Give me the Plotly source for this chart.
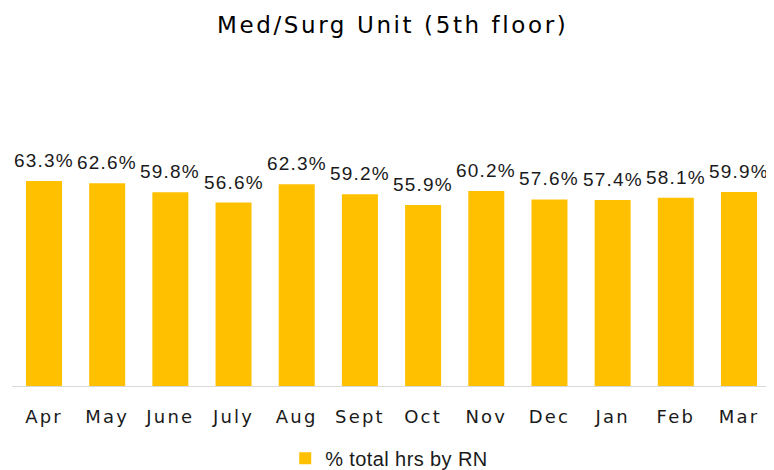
import plotly.graph_objects as go

months = ["Apr", "May", "June", "July", "Aug", "Sept", "Oct", "Nov", "Dec", "Jan", "Feb", "Mar"]
rn_pct = [63.3, 62.6, 59.8, 56.6, 62.3, 59.2, 55.9, 60.2, 57.6, 57.4, 58.1, 59.9]
series_name = "% total hrs by RN"
title_text = "Med/Surg Unit (5th floor)"

labels = [f"{v:.1f}%" for v in rn_pct]

WIDE = "DejaVu Sans, sans-serif"
ARIAL = "Liberation Sans, Arial, sans-serif"


def spaced(s, px):
    return f'<span style="letter-spacing:{px}px">{s}</span>'


fig = go.Figure()
fig.add_trace(go.Bar(
    x=months, y=rn_pct, name=spaced(series_name, 0.4),
    marker=dict(color="#FFC000", line=dict(width=0)),
    width=0.57, showlegend=True,
))

for m, v, t in zip(months, rn_pct, labels):
    fig.add_annotation(x=m, y=v, text=spaced(t, 1.2), showarrow=False, yanchor="bottom",
                       yshift=8, font=dict(family=ARIAL, size=19, color="#1a1a1a"))

fig.update_layout(
    width=774, height=470,
    paper_bgcolor="white", plot_bgcolor="white",
    margin=dict(l=4, r=11, t=54, b=92),
    title=dict(text=spaced(title_text, 2.6), x=0.497, xanchor="center", y=0.964, yanchor="middle",
               font=dict(family=WIDE, size=23, color="#000000")),
    xaxis=dict(showline=True, linecolor="#d9d9d9", linewidth=1, ticks="",
               tickmode="array", tickvals=months, ticktext=[spaced(m, 2.2) for m in months],
               tickfont=dict(family=WIDE, size=18, color="#1a1a1a"),
               ticklabelstandoff=14, showgrid=False),
    yaxis=dict(range=[0, 100], visible=False, showgrid=False),
    legend=dict(orientation="h", x=0.497, xanchor="center", yref="container",
                y=0.042, yanchor="middle",
                font=dict(family=ARIAL, size=20, color="#1a1a1a")),
    bargap=0.43,
)

fig.write_html("out.html")
